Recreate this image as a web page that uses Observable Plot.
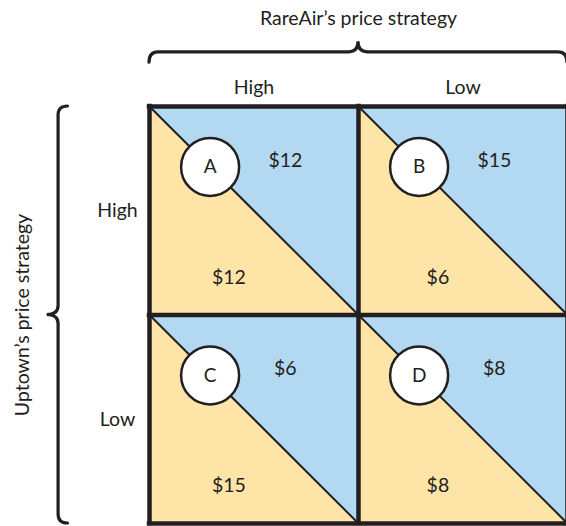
<!DOCTYPE html>
<html>
<head>
<meta charset="utf-8">
<script src="https://cdn.jsdelivr.net/npm/d3@7"></script>
<script src="https://cdn.jsdelivr.net/npm/@observablehq/plot@0.6"></script>
<style>
  html, body { margin: 0; padding: 0; background: #fff; }
  #chart svg { display: block; }
</style>
</head>
<body>
<div id="chart"></div>
<script>
// ---- data ----
const rareAirStrategies = ["High", "Low"];   // columns
const uptownStrategies = ["High", "Low"];    // rows
const cellLetters = ["A", "B", "C", "D"];
const rareAirPayoffs = [12, 15, 6, 8];       // upper-right (blue) triangle
const uptownPayoffs = [12, 6, 15, 8];        // lower-left (yellow) triangle
const topTitle = "RareAir’s price strategy";
const sideTitle = "Uptown’s price strategy";

const blue = "#b3d8f1";
const yellow = "#fee4a7";
const ink = "#231f20";
const font = "Lato, 'Open Sans', sans-serif";

const cells = cellLetters.map((letter, i) => ({
  letter,
  col: i % 2,
  row: Math.floor(i / 2),
  rare: rareAirPayoffs[i],
  up: uptownPayoffs[i]
}));

const triangles = cells.flatMap(d => [
  {cell: d.letter, x: d.col, y1: d.row, y2: d.row},
  {cell: d.letter, x: d.col + 1, y1: d.row, y2: d.row + 1}
]);

const colLabels = rareAirStrategies.map((s, i) => ({s, x: i + 0.5}));
const rowLabels = uptownStrategies.map((s, i) => ({s, y: i + 0.5}));

// curly brace mark, drawn in data coordinates through the plot's scales
function brace(orient, a0, a1, end, flat, tip) {
  return (index, scales) => {
    const p = d3.path();
    if (orient === "top") {
      const X0 = scales.x(a0), X1 = scales.x(a1), M = (X0 + X1) / 2;
      const E = scales.y(end), F = scales.y(flat), T = scales.y(tip);
      const q = 9;
      p.moveTo(X0, E);
      p.quadraticCurveTo(X0, F, X0 + q, F);
      p.lineTo(M - q, F);
      p.quadraticCurveTo(M, F, M, T);
      p.quadraticCurveTo(M, F, M + q, F);
      p.lineTo(X1 - q, F);
      p.quadraticCurveTo(X1, F, X1, E);
    } else {
      const Y0 = scales.y(a0), Y1 = scales.y(a1), M = (Y0 + Y1) / 2;
      const E = scales.x(end), F = scales.x(flat), T = scales.x(tip);
      const q = 9;
      p.moveTo(E, Y0);
      p.quadraticCurveTo(F, Y0, F, Y0 + q);
      p.lineTo(F, M - q);
      p.quadraticCurveTo(F, M, T, M);
      p.quadraticCurveTo(F, M, F, M + q);
      p.lineTo(F, Y1 - q);
      p.quadraticCurveTo(F, Y1, E, Y1);
    }
    const el = document.createElementNS("http://www.w3.org/2000/svg", "path");
    el.setAttribute("d", p.toString());
    el.setAttribute("fill", "none");
    el.setAttribute("stroke", ink);
    el.setAttribute("stroke-width", "3.2");
    el.setAttribute("stroke-linecap", "round");
    return el;
  };
}

const chart = Plot.plot({
  width: 566,
  height: 526,
  margin: 0,
  style: {fontFamily: font, background: "#fff"},
  x: {type: "linear", domain: [0, 2], range: [149, 567], axis: null},
  y: {type: "linear", domain: [0, 2], range: [106, 523], axis: null},
  marks: [
    Plot.rect(cells, {x1: "col", x2: d => d.col + 1, y1: "row", y2: d => d.row + 1, fill: yellow}),
    Plot.area(triangles, {x1: "x", y1: "y1", y2: "y2", z: "cell", fill: blue}),
    Plot.link(cells, {x1: "col", y1: "row", x2: d => d.col + 1, y2: d => d.row + 1, stroke: ink, strokeWidth: 2}),
    Plot.ruleX([0, 1, 2], {y1: 0, y2: 2, stroke: ink, strokeWidth: 4.5, strokeLinecap: "square"}),
    Plot.ruleY([0, 1, 2], {x1: 0, x2: 2, stroke: ink, strokeWidth: 4.5, strokeLinecap: "square"}),
    Plot.dot(cells, {x: d => d.col + 0.29, y: d => d.row + 0.29, r: 29, fill: "#fff", stroke: ink, strokeWidth: 2.5}),
    Plot.text(cells, {x: d => d.col + 0.29, y: d => d.row + 0.29, text: "letter", fontSize: 19, fill: ink}),
    Plot.text(cells, {x: d => d.col + 0.65, y: d => d.row + 0.26, text: d => "$" + d.rare, fontSize: 19.5, fill: ink}),
    Plot.text(cells, {x: d => d.col + 0.38, y: d => d.row + 0.82, text: d => "$" + d.up, fontSize: 19.5, fill: ink}),
    Plot.text(colLabels, {x: "x", y: -0.09, text: "s", fontSize: 19.5, fill: ink}),
    Plot.text(rowLabels, {x: -0.153, y: "y", text: "s", fontSize: 19.5, fill: ink}),
    Plot.text([topTitle], {x: 1.0, y: -0.42, text: d => d, fontSize: 19.5, fill: ink}),
    Plot.text([sideTitle], {x: -0.605, y: 1.0, text: d => d, fontSize: 19.5, fill: ink, rotate: -90}),
    brace("top", 0, 2, -0.21, -0.26, -0.31),
    brace("left", 0, 2, -0.39, -0.435, -0.49)
  ]
});

document.getElementById("chart").appendChild(chart);
</script>
</body>
</html>
